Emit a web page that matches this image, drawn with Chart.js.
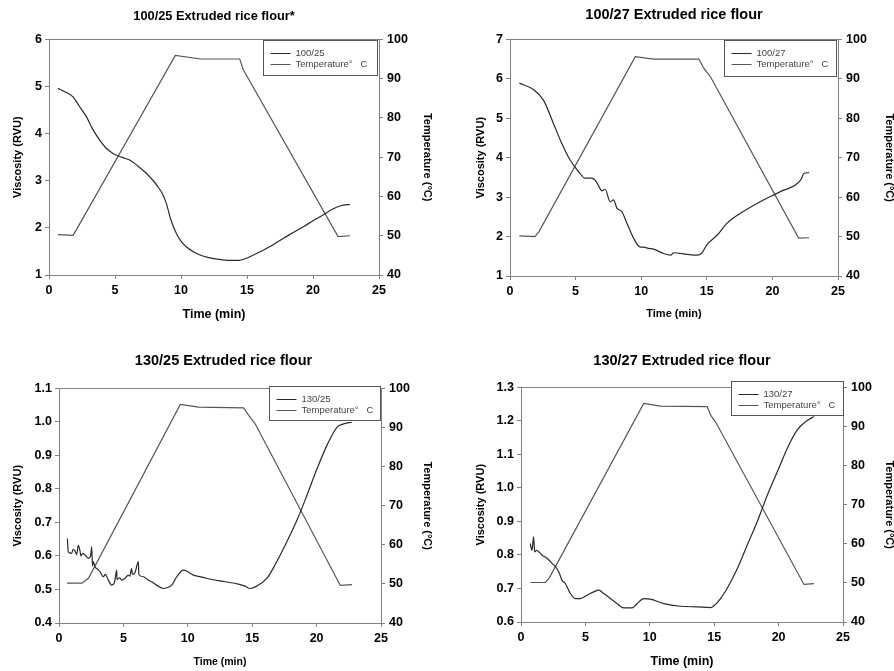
<!DOCTYPE html>
<html>
<head>
<meta charset="utf-8">
<script src="https://cdn.jsdelivr.net/npm/chart.js@4.4.0/dist/chart.umd.min.js"></script>
<style>
  html, body { margin: 0; padding: 0; background: #fff; overflow: hidden; width: 894px; height: 671px; position: relative; }
  canvas { position: absolute; }
</style>
</head>
<body>
<canvas id="c1" width="447" height="335" style="left:0;top:0"></canvas>
<canvas id="c2" width="470" height="335" style="left:447px;top:0"></canvas>
<canvas id="c3" width="447" height="336" style="left:0;top:335px"></canvas>
<canvas id="c4" width="470" height="336" style="left:447px;top:335px"></canvas>
<script>

// ---- 100/25 ----
const visc_100_25_t = [0.68, 1.2, 1.82, 2.3, 2.83, 3.3, 3.84, 4.3, 4.85, 5.5, 6.11, 6.7, 7.37, 7.9, 8.26, 8.6, 8.89, 9.2, 9.65, 10.0, 10.4, 10.9, 11.4, 12.1, 12.9, 13.7, 14.4, 14.9, 15.45, 16.2, 16.97, 17.7, 18.5, 19.3, 20.0, 20.8, 21.5, 22.1, 22.8];
const visc_100_25 = [4.96, 4.89, 4.78, 4.58, 4.36, 4.1, 3.86, 3.7, 3.58, 3.5, 3.44, 3.32, 3.16, 3.0, 2.87, 2.72, 2.52, 2.2, 1.88, 1.72, 1.6, 1.5, 1.43, 1.37, 1.33, 1.31, 1.31, 1.35, 1.42, 1.52, 1.64, 1.77, 1.9, 2.03, 2.15, 2.28, 2.4, 2.47, 2.5];
const temp_100_25_t = [0.68, 1.82, 2.07, 9.57, 11.5, 14.45, 14.7, 21.9, 22.8];
const temp_100_25 = [50.3, 50.1, 51.5, 95.9, 95.0, 95.0, 92.4, 49.8, 50.0];

// ---- 100/27 ----
const visc_100_27_t = [0.71, 1.78, 2.55, 3.31, 3.95, 4.58, 5.22, 5.73, 6.24, 6.62, 7.0, 7.25, 7.64, 7.89, 8.15, 8.53, 8.91, 9.42, 9.88, 10.18, 10.56, 10.95, 11.7, 12.27, 12.47, 13.5, 14.25, 14.64, 15.0, 15.8, 16.55, 17.57, 19.1, 20.6, 22.15, 22.4, 22.8];
const visc_100_27 = [5.89, 5.73, 5.46, 4.87, 4.36, 3.94, 3.65, 3.48, 3.48, 3.37, 3.16, 3.2, 2.88, 2.93, 2.72, 2.63, 2.34, 1.96, 1.74, 1.73, 1.7, 1.68, 1.57, 1.53, 1.59, 1.55, 1.53, 1.59, 1.79, 2.04, 2.34, 2.59, 2.89, 3.14, 3.43, 3.6, 3.62];
const temp_100_27_t = [0.71, 1.9, 2.2, 9.55, 10.95, 14.4, 14.77, 15.3, 22.0, 22.8];
const temp_100_27 = [50.2, 50.0, 51.2, 95.6, 95.0, 95.0, 92.7, 90.4, 49.6, 49.7];

// ---- 130/25 ----
const visc_130_25_t = [0.65, 0.72, 0.98, 1.1, 1.24, 1.37, 1.5, 1.63, 1.7, 1.84, 2.02, 2.28, 2.45, 2.54, 2.6, 2.66, 2.8, 3.0, 3.18, 3.44, 3.6, 3.83, 4.09, 4.3, 4.48, 4.5, 4.7, 4.87, 5.12, 5.38, 5.5, 5.64, 5.7, 5.9, 6.16, 6.2, 6.55, 6.93, 7.2, 7.58, 8.1, 8.36, 8.75, 9.14, 9.65, 9.9, 10.43, 11.2, 11.6, 12.9, 13.92, 14.44, 14.83, 15.35, 16.13, 16.77, 17.7, 18.48, 19.25, 20.03, 20.8, 21.58, 22.1, 22.75];
const visc_130_25 = [0.652, 0.612, 0.608, 0.62, 0.615, 0.604, 0.632, 0.615, 0.6, 0.608, 0.603, 0.593, 0.6, 0.627, 0.57, 0.583, 0.568, 0.56, 0.553, 0.538, 0.545, 0.528, 0.513, 0.52, 0.558, 0.53, 0.535, 0.528, 0.533, 0.543, 0.54, 0.562, 0.545, 0.55, 0.583, 0.544, 0.538, 0.528, 0.523, 0.513, 0.503, 0.505, 0.513, 0.538, 0.558, 0.555, 0.543, 0.536, 0.532, 0.523, 0.516, 0.51, 0.503, 0.51, 0.533, 0.573, 0.643, 0.707, 0.781, 0.86, 0.93, 0.984, 0.994, 0.999];
const temp_130_25_t = [0.62, 1.79, 2.3, 9.42, 10.84, 14.34, 14.73, 15.24, 21.84, 22.75];
const temp_130_25 = [50.2, 50.2, 51.5, 95.9, 95.2, 95.0, 93.1, 90.9, 49.6, 49.8];

// ---- 130/27 ----
const visc_130_27_t = [0.72, 0.85, 0.98, 1.06, 1.2, 1.63, 2.02, 2.41, 2.67, 2.93, 3.18, 3.44, 3.7, 3.83, 4.22, 4.61, 5.13, 5.65, 6.04, 6.42, 6.94, 7.46, 7.98, 8.63, 9.02, 9.53, 10.05, 11.09, 12.38, 13.68, 14.72, 14.97, 15.49, 16.0, 16.79, 17.56, 18.34, 19.12, 19.9, 20.67, 21.45, 22.1, 22.75];
const visc_130_27 = [0.834, 0.814, 0.854, 0.809, 0.814, 0.8, 0.79, 0.775, 0.765, 0.75, 0.725, 0.715, 0.695, 0.685, 0.67, 0.67, 0.68, 0.69, 0.695, 0.685, 0.67, 0.655, 0.642, 0.642, 0.655, 0.67, 0.668, 0.655, 0.647, 0.645, 0.643, 0.648, 0.67, 0.7, 0.759, 0.829, 0.899, 0.978, 1.048, 1.118, 1.173, 1.198, 1.213];
const temp_130_27_t = [0.73, 1.89, 2.2, 9.53, 10.83, 14.46, 14.72, 15.1, 21.97, 22.75];
const temp_130_27 = [50.1, 50.1, 51.3, 95.9, 95.2, 95.1, 92.9, 91.2, 49.6, 49.8];

const FONT = 'Liberation Sans, Arial, sans-serif';

function pts(t, v) {
  return t.map((x, i) => ({x: x, y: v[i]}));
}

// frame round the plot area + boxed legend inside it
const boxLegend = {
  id: 'boxLegend',
  afterDraw(chart, args, opts) {
    const ctx = chart.ctx;
    const a = chart.chartArea;
    ctx.save();
    ctx.strokeStyle = '#808080';
    ctx.lineWidth = 1;
    ctx.strokeRect(Math.round(a.left) + 0.5, Math.round(a.top) + 0.5, Math.round(a.right - a.left), Math.round(a.bottom - a.top));
    const x = Math.round(a.right - opts.dx - opts.w) + 0.5;
    const y = Math.round(a.top + opts.dy) + 0.5;
    ctx.fillStyle = '#fff';
    ctx.fillRect(x, y, opts.w, opts.h);
    ctx.strokeStyle = '#555';
    ctx.strokeRect(x, y, opts.w, opts.h);
    ctx.font = '9.5px ' + FONT;
    ctx.textBaseline = 'middle';
    chart.data.datasets.forEach((ds, i) => {
      const ry = Math.round(y + 12 + i * 11) + 0.5;
      ctx.strokeStyle = ds.borderColor;
      ctx.beginPath();
      ctx.moveTo(x + 7, ry);
      ctx.lineTo(x + 27, ry);
      ctx.stroke();
      ctx.fillStyle = '#444';
      ctx.fillText(ds.label, x + 32, ry);
    });
    ctx.restore();
  }
};

function makePanel(id, p) {
  const tickFont = {family: FONT, size: 12.5, weight: 'bold'};
  const titleFont = {family: FONT, size: 11, weight: 'bold'};
  return new Chart(document.getElementById(id), {
    type: 'line',
    data: {
      datasets: [{
        label: p.name,
        data: pts(p.vt, p.v),
        yAxisID: 'y',
        borderColor: '#2a2a2a',
        borderWidth: 1.2,
        pointRadius: 0,
        cubicInterpolationMode: 'monotone'
      }, {
        label: 'Temperature\u00B0   C',
        data: pts(p.tt, p.temp),
        yAxisID: 'y1',
        borderColor: '#555',
        borderWidth: 1.2,
        pointRadius: 0,
        tension: 0
      }]
    },
    options: {
      responsive: false,
      animation: false,
      layout: {padding: 0},
      plugins: {
        legend: {display: false},
        tooltip: {enabled: false},
        title: {
          display: true,
          text: p.title,
          color: '#000',
          fullSize: p.titleFull,
          font: {family: FONT, size: p.titleSize, weight: 'bold'},
          padding: {top: p.titleTop, bottom: p.titleBottom}
        },
        boxLegend: p.legend
      },
      scales: {
        x: {
          type: 'linear',
          min: 0, max: 25,
          ticks: {stepSize: 5, color: '#000', font: tickFont, padding: 4},
          grid: {drawOnChartArea: false, tickLength: 4, color: '#808080'},
          border: {color: '#808080'},
          title: {display: true, text: 'Time (min)', color: '#000', font: {family: FONT, size: p.xTitleSize, weight: 'bold'}, padding: {top: 0, bottom: p.xTitlePad}},
          afterFit(s) { s.height = p.xH; }
        },
        y: {
          position: 'left',
          min: p.vMin, max: p.vMax,
          ticks: {stepSize: p.vStep, color: '#000', font: tickFont, padding: 3,
            callback: v => p.vStep < 1 ? v.toFixed(1) : v},
          grid: {drawOnChartArea: false, tickLength: 4, color: '#808080'},
          border: {color: '#808080'},
          title: {display: true, text: 'Viscosity (RVU)', color: '#000', font: titleFont, padding: {top: p.yTitlePad, bottom: 0}},
          afterFit(s) { s.width = p.yW; }
        },
        y1: {
          position: 'right',
          min: 40, max: 100,
          ticks: {stepSize: 10, color: '#000', font: tickFont, padding: 4},
          grid: {drawOnChartArea: false, tickLength: 4, color: '#808080'},
          border: {color: '#808080'},
          title: {display: true, text: 'Temperature (\u00B0C)', color: '#000', font: titleFont, padding: {top: p.y1TitlePad, bottom: 0}},
          afterFit(s) { s.width = p.y1W; }
        }
      }
    },
    plugins: [boxLegend]
  });
}

makePanel('c1', {
  title: '100/25 Extruded rice flour*', name: '100/25',
  vt: visc_100_25_t, v: visc_100_25, tt: temp_100_25_t, temp: temp_100_25,
  vMin: 1, vMax: 6, vStep: 1,
  yW: 49, y1W: 68, xH: 60, titleTop: 9, titleBottom: 15, titleSize: 12.8, titleFull: false,
  xTitlePad: 13, xTitleSize: 12.5, yTitlePad: 11, y1TitlePad: 13,
  legend: {dx: 2, dy: 1, w: 114, h: 35}
});
makePanel('c2', {
  title: '100/27 Extruded rice flour', name: '100/27',
  vt: visc_100_27_t, v: visc_100_27, tt: temp_100_27_t, temp: temp_100_27,
  vMin: 1, vMax: 7, vStep: 1,
  yW: 63, y1W: 79, xH: 59, titleTop: 6, titleBottom: 16, titleSize: 14.5, titleFull: false,
  xTitlePad: 14, xTitleSize: 11, yTitlePad: 27, y1TitlePad: 21,
  legend: {dx: 2, dy: 1, w: 112, h: 36}
});
makePanel('c3', {
  title: '130/25 Extruded rice flour', name: '130/25',
  vt: visc_130_25_t, v: visc_130_25, tt: temp_130_25_t, temp: temp_130_25,
  vMin: 0.4, vMax: 1.1, vStep: 0.1,
  yW: 59, y1W: 66, xH: 48, titleTop: 17, titleBottom: 19, titleSize: 14.5, titleFull: true,
  xTitlePad: 3, xTitleSize: 10.5, yTitlePad: 11, y1TitlePad: 13,
  legend: {dx: 1, dy: -2, w: 111, h: 34}
});
makePanel('c4', {
  title: '130/27 Extruded rice flour', name: '130/27',
  vt: visc_130_27_t, v: visc_130_27, tt: temp_130_27_t, temp: temp_130_27,
  vMin: 0.6, vMax: 1.3, vStep: 0.1,
  yW: 74, y1W: 74, xH: 49, titleTop: 17, titleBottom: 18, titleSize: 14.5, titleFull: false,
  xTitlePad: 2, xTitleSize: 12.5, yTitlePad: 27, y1TitlePad: 21,
  legend: {dx: 0, dy: -6, w: 112, h: 34}
});
</script>
</body>
</html>
